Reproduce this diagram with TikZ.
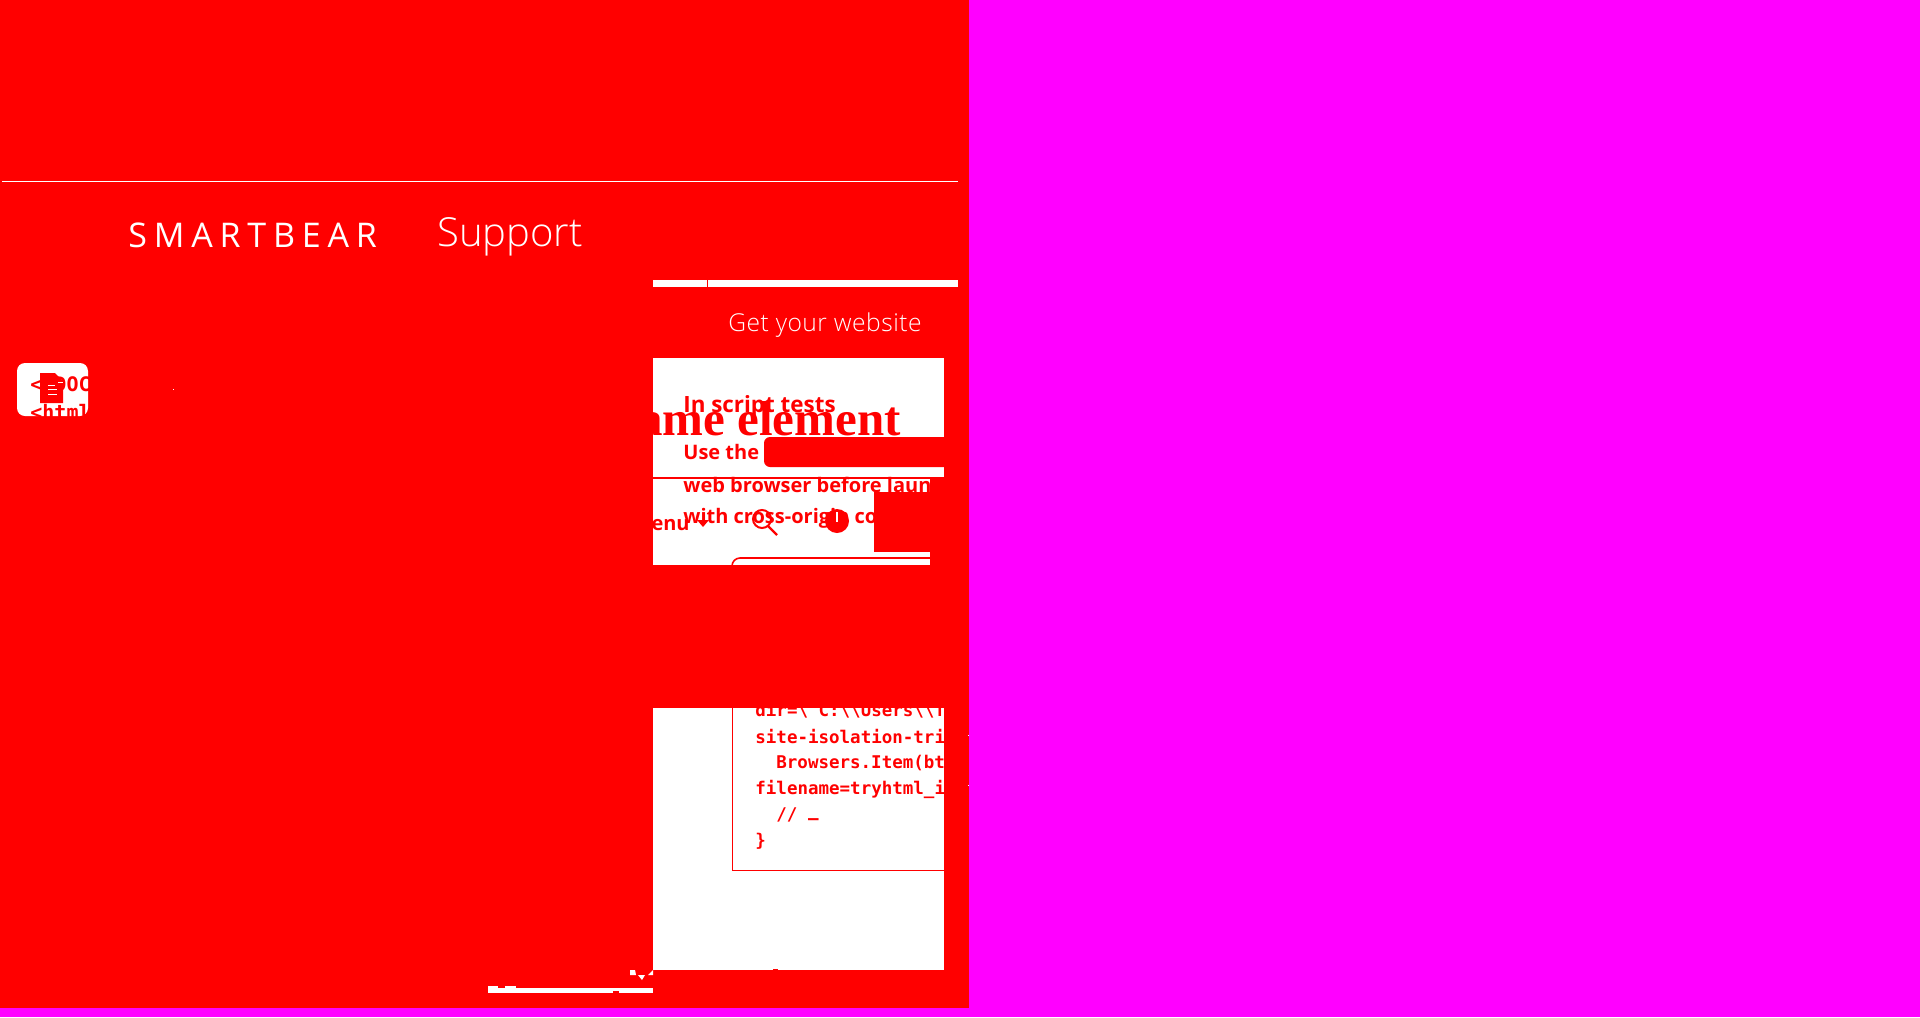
\documentclass[tikz,border=0pt]{standalone}
\usepackage{fontspec}
\usepackage{xcolor}
\usepackage{tikz}
\setmainfont{Open Sans}
\newfontfamily\lightfont{Open Sans Light}
\newfontfamily\sitefont[LetterSpace=2]{Open Sans Light}
\newfontfamily\trackfont[LetterSpace=20]{Open Sans}
\newfontfamily\headfont{Liberation Serif}
\newfontfamily\codefont{DejaVu Sans Mono Bold}
\definecolor{bgmagenta}{RGB}{255,0,255}
\definecolor{pagered}{RGB}{255,0,0}
\tikzset{
  lighttext/.style={white, inner sep=0pt, anchor=base west},
  bodytext/.style={pagered, inner sep=0pt, anchor=base west, font=\bfseries\fontsize{10}{12}\selectfont},
  codetext/.style={pagered, inner sep=0pt, anchor=base west, font=\codefont\fontsize{8.75}{10}\selectfont},
  icontext/.style={pagered, inner sep=0pt, anchor=base west, font=\codefont\fontsize{10}{12}\selectfont},
}
\begin{document}
\begin{tikzpicture}[x=0.5pt, y=-0.5pt]
  % page and red ground
  \fill[bgmagenta] (0,0) rectangle (1920,1017);
  \fill[pagered] (0,0) rectangle (969,1008);
  \useasboundingbox (0,0) rectangle (1920,1017);

  % header
  \fill[white] (2,180.5) rectangle (958,181.5);
  \node[lighttext, font=\trackfont\fontsize{17}{20}\selectfont] (brand) at (128,247) {SMARTBEAR};
  \node[lighttext, font=\lightfont\fontsize{20}{24}\selectfont] (support) at (437,246) {Support};

  % icon
  \begin{scope}
    \clip (17,363) rectangle (88,416);
    \fill[white, rounded corners=4pt] (17,363) rectangle (88,416);
    \node[icontext] (doctype) at (30,391) {<!DOC};
    \node[icontext] (htmltag) at (30,419) {<html>};
  \end{scope}
  \fill[pagered] (40,373) -- (55,373) -- (63,381) -- (63,403) -- (40,403) -- cycle;
  \foreach \y/\xa/\xb in {382/58/63, 385/48/55, 389/48/57, 394/48/57} {
    \fill[white] (\xa,\y) rectangle (\xb,\y+1);
  }
  \fill[white] (173,389) rectangle (174,390);

  % top band and title
  \fill[white] (653,280) rectangle (958,287);
  \fill[pagered] (706.5,280) rectangle (707.5,287);
  \node[lighttext, font=\sitefont\fontsize{12.3}{14}\selectfont] (site) at (728,331) {Get your website};

  % white panels
  \fill[white] (653,358) rectangle (944,478);
  \fill[white] (653,478) rectangle (930,564.5);
  \fill[white] (653,708) rectangle (944,970);
  \fill[pagered, rounded corners=3pt] (764,437) -- (764,467) -- (950,467) -- (950,437) -- cycle;
  \fill[pagered] (653,476.5) rectangle (944,478.5);
  \fill[pagered] (874,492) rectangle (930,552);
  \fill[pagered] (773,969) rectangle (778,970);

  % text of the upper panel
  \begin{scope}
    \clip (653,358) rectangle (930,564.5);
    \node[bodytext, font=\bfseries\fontsize{11.2}{13}\selectfont] (script) at (683,412) {In script tests};
    \node[pagered, inner sep=0pt, anchor=base east, font=\headfont\bfseries\fontsize{24.5}{27}\selectfont] (heading) at (901,435) {ame element};
    \node[bodytext] (usethe) at (683,459) {Use the};
    \node[bodytext] (browser) at (683,492) {web browser before launching};
    \node[bodytext] (cross) at (683,523) {with cross-origin content};
    \node[bodytext, anchor=base east] (menu) at (690,530) {Menu};
    % menu marks
    \fill[pagered] (697,520) -- (709,520) -- (703,527) -- cycle;
    \draw[pagered, line width=1pt] (762,519) circle (4.5pt);
    \draw[pagered, line width=1.2pt] (768,526) -- (777,535);
    \fill[pagered] (837,521) circle (6pt);
    \fill[white] (836,512) rectangle (838,522);
    % top of the code box
    \draw[pagered, line width=0.8pt, rounded corners=4pt] (732,570) -- (732,558) -- (940,558);
  \end{scope}

  % code box
  \draw[pagered, line width=0.5pt] (732,700) -- (732,870) -- (944,870);
  \begin{scope}
    \clip (653,708) rectangle (944,970);
    \node[codetext] (line1) at (755,716) {dir=\textbackslash"C:\textbackslash\textbackslash Users\textbackslash\textbackslash T};
    \node[codetext] (line2) at (755,743) {site-isolation-trials};
    \node[codetext] (line3) at (776,768.5) {Browsers.Item(btn};
    \node[codetext] (line4) at (755,794) {filename=tryhtml\_iframe};
    \node[codetext] (line5) at (776,820) {// \raisebox{-0.5ex}{–}};
    \node[codetext] (line6) at (755,846) {\}};
  \end{scope}
  \foreach \y in {735,785} {
    \fill[white] (967.5,\y) rectangle (968.5,\y+1);
  }

  % bottom strip
  \fill[white] (488,988) rectangle (653,993);
  \fill[white] (488,986) rectangle (498,988);
  \fill[white] (505,986) rectangle (516,988);
  \fill[pagered] (613,991) rectangle (619,993);
  \fill[white] (630,970) -- (635,970) -- (636,975) -- (630,975) -- cycle;
  \fill[white] (638,975) -- (645,975) -- (642,980) -- cycle;
  \fill[white] (653,970) -- (653,975) -- (648,975) -- cycle;
\end{tikzpicture}
\end{document}
